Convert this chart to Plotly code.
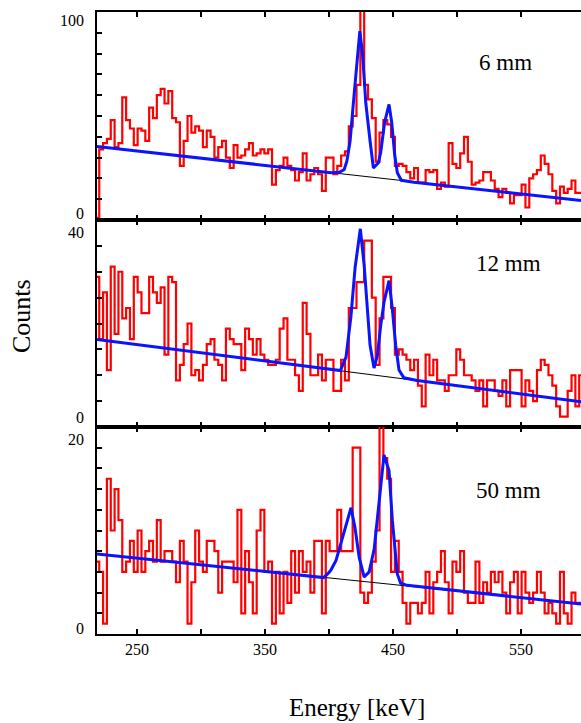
import plotly.graph_objects as go
import numpy as np

# ---------------- data ----------------
E_MIN, E_MAX = 218.75, 596.9          # energy axis range [keV]
BIN_START, BIN_WIDTH = 217.5, 3.0     # histogram binning [keV]

X_TICK_VALS = [250, 300, 350, 400, 450, 500, 550, 600]
X_TICK_TEXT = ["250", "", "350", "", "450", "", "550", ""]

panel_labels = ["6 mm", "12 mm", "50 mm"]
y_max = [100, 40, 20]
y_dtick = [10, 5, 2]

counts_6mm = [
    1, 34, 37, 39, 48, 35, 37, 59, 48, 44,
    36, 44, 43, 38, 54, 49, 60, 63, 56, 62,
    49, 47, 26, 38, 50, 42, 45, 43, 35, 43,
    40, 30, 35, 38, 30, 25, 36, 30, 31, 34,
    37, 31, 32, 34, 32, 34, 17, 24, 26, 30,
    26, 24, 19, 23, 32, 19, 22, 25, 22, 14,
    30, 30, 22, 26, 31, 33, 45, 50, 65, 103,
    65, 58, 49, 28, 42, 48, 46, 40, 26, 27,
    26, 23, 20, 25, 18, 18, 24, 23, 24, 15,
    18, 16, 37, 27, 25, 32, 40, 28, 17, 18,
    19, 23, 23, 19, 15, 11, 15, 13, 8, 12,
    12, 17, 6, 20, 22, 24, 31, 27, 22, 14,
    8, 16, 13, 15, 19, 13, 13,
]

counts_12mm = [
    29, 17, 26, 11, 31, 18, 30, 21, 23, 17,
    29, 26, 22, 22, 29, 26, 24, 27, 14, 29,
    28, 9, 12, 16, 20, 10, 11, 9, 12, 16,
    17, 13, 12, 9, 19, 17, 16, 16, 11, 19,
    17, 14, 17, 14, 13, 12, 12, 13, 19, 21,
    13, 13, 10, 7, 24, 18, 10, 10, 14, 9,
    13, 13, 7, 7, 13, 9, 23, 23, 28, 28,
    36, 36, 25, 12, 21, 29, 29, 23, 14, 15,
    14, 13, 11, 13, 8, 4, 14, 10, 13, 9,
    9, 7, 10, 10, 15, 13, 10, 10, 9, 7,
    9, 4, 9, 9, 7, 6, 9, 4, 11, 11,
    11, 4, 9, 7, 5, 11, 13, 12, 10, 8,
    4, 2, 2, 7, 10, 4, 10,
]

counts_50mm = [
    7, 6, 1, 15, 10, 14, 11, 6, 7, 9,
    6, 10, 6, 8, 9, 7, 11, 7, 8, 8,
    7, 5, 9, 7, 1, 5, 10, 7, 6, 9,
    9, 8, 4, 7, 7, 7, 5, 12, 2, 8,
    5, 2, 10, 12, 6, 7, 1, 6, 2, 6,
    3, 8, 4, 8, 6, 7, 4, 9, 9, 2,
    9, 8, 8, 12, 8, 8, 8, 18, 18, 4,
    3, 4, 7, 10, 21, 17, 15, 6, 9, 6,
    3, 1, 3, 3, 2, 3, 6, 2, 5, 6,
    8, 5, 2, 7, 6, 8, 4, 3, 3, 7,
    3, 5, 4, 6, 5, 6, 4, 2, 5, 6,
    2, 6, 4, 3, 4, 6, 4, 2, 3, 2,
    1, 6, 2, 1, 4, 3, 3,
]

# fitted curve (blue): vertices
fit_6mm_e = [218.75, 401.6, 408.1, 411.9, 414.0, 416.5, 419.7, 421.8, 424.1, 426.2,
             428.8, 432.1, 434.7, 438.6, 440.4, 443.5, 446.9, 449.0, 451.3, 453.4,
             456.5, 466.3, 596.9]
fit_6mm_c = [35.3, 22.7, 22.9, 24.3, 28.4, 38.0, 60.8, 77.0, 90.8, 80.0,
             56.0, 38.0, 25.0, 27.5, 32.4, 47.0, 55.6, 47.0, 31.6, 22.7,
             19.1, 18.2, 9.4]

fit_12mm_e = [218.75, 408.9, 413.3, 417.2, 420.4, 424.5, 427.5, 430.1, 432.1, 435.2,
              437.8, 440.4, 443.0, 446.9, 449.5, 452.1, 454.7, 458.5, 468.9, 596.9]
fit_12mm_c = [16.9, 10.9, 13.5, 21.5, 30.8, 38.3, 31.2, 21.5, 15.8, 11.4,
              13.8, 19.6, 24.1, 28.3, 22.8, 15.8, 11.0, 9.5, 9.0, 4.9]

fit_50mm_e = [218.75, 395.8, 399.7, 401.6, 405.5, 409.4, 413.3, 417.2, 420.3, 423.6,
              427.5, 431.4, 435.3, 437.8, 440.4, 443.0, 446.9, 449.5, 453.4, 456.0,
              461.0, 596.9]
fit_50mm_c = [7.74, 5.45, 5.9, 6.2, 7.1, 8.8, 10.6, 12.2, 10.3, 7.4,
              5.5, 6.0, 8.2, 11.0, 14.2, 17.3, 15.8, 11.0, 5.8, 4.9,
              4.7, 2.9]

# linear background (black)
bg_e = [218.75, 596.9]
bg_6mm = [35.3, 9.4]
bg_12mm = [16.9, 4.9]
bg_50mm = [7.74, 2.9]

# ---------------- figure ----------------
W, H = 581, 723
PLOT_TOP, PLOT_BOT = 12, 634
panel_px = [(12, 220), (220, 427), (427, 634)]
SERIF = "Liberation Serif"


def paper_y(py):
    return (PLOT_BOT - py) / (PLOT_BOT - PLOT_TOP)


def paper_x(px):
    return (px - 97) / (W - 97)


hist_sets = [counts_6mm, counts_12mm, counts_50mm]
fit_sets = [(fit_6mm_e, fit_6mm_c), (fit_12mm_e, fit_12mm_c), (fit_50mm_e, fit_50mm_c)]
bg_sets = [bg_6mm, bg_12mm, bg_50mm]

fig = go.Figure()

for i in range(3):
    n = i + 1
    xa, ya = f"x{n}", f"y{n}"
    counts = hist_sets[i]
    edges = BIN_START + BIN_WIDTH * np.arange(len(counts) + 1)
    fig.add_trace(go.Scatter(
        x=edges, y=list(counts) + [counts[-1]], mode="lines",
        line=dict(color="#ff0000", width=2.2, shape="hv"),
        xaxis=xa, yaxis=ya, showlegend=False, hoverinfo="skip"))
    fig.add_trace(go.Scatter(
        x=bg_e, y=bg_sets[i], mode="lines",
        line=dict(color="black", width=1),
        xaxis=xa, yaxis=ya, showlegend=False, hoverinfo="skip"))
    fe, fc = fit_sets[i]
    fig.add_trace(go.Scatter(
        x=fe, y=fc, mode="lines",
        line=dict(color="#0a14ff", width=3),
        xaxis=xa, yaxis=ya, showlegend=False, hoverinfo="skip"))

layout = dict(
    width=W, height=H,
    margin=dict(l=97, r=0, t=PLOT_TOP, b=H - PLOT_BOT, pad=0),
    paper_bgcolor="white", plot_bgcolor="white",
    showlegend=False,
)

for i in range(3):
    n = i + 1
    top, bot = panel_px[i]
    dom = [paper_y(bot), paper_y(top)]
    layout[f"xaxis{n}"] = dict(
        range=[E_MIN, E_MAX], anchor=f"y{n}", domain=[0, 1],
        showline=True, linecolor="black", linewidth=1.5, mirror="ticks",
        ticks="inside", ticklen=5, tickwidth=1.5, tickcolor="black",
        tickvals=X_TICK_VALS, ticktext=X_TICK_TEXT,
        showticklabels=(n == 3), showgrid=False, zeroline=False,
        tickfont=dict(family=SERIF, size=16, color="black"),
    )
    layout[f"yaxis{n}"] = dict(
        range=[0, y_max[i]], domain=dom, anchor=f"x{n}",
        showline=True, linecolor="black", linewidth=1.5, mirror=False,
        ticks="inside", ticklen=5, tickwidth=1.5, tickcolor="black",
        tick0=0, dtick=y_dtick[i], showticklabels=False,
        showgrid=False, zeroline=False,
    )
    layout[f"yaxis{n + 3}"] = dict(
        range=[0, y_max[i]], overlaying=f"y{n}", side="right", anchor=f"x{n}",
        showline=False, ticks="inside", ticklen=5, tickwidth=1.5, tickcolor="black",
        tick0=0, dtick=y_dtick[i], showticklabels=False,
        showgrid=False, zeroline=False,
    )

fig.update_layout(**layout)

# y tick labels (only the end values, as in the reference)
ylab_pos = [(20.5, 214), (232, 417), (439.5, 628)]
anns = []
for i in range(3):
    ptop, pbot = ylab_pos[i]
    for txt, py in ((str(y_max[i]), ptop), ("0", pbot)):
        anns.append(dict(text=txt, xref="paper", yref="paper",
                         x=paper_x(86), y=paper_y(py), xanchor="right", yanchor="middle",
                         showarrow=False, font=dict(family=SERIF, size=16, color="black")))

# panel labels
lab_pos = [(505, 63), (508, 263), (508, 490)]
for i in range(3):
    px, py = lab_pos[i]
    anns.append(dict(text=panel_labels[i], xref="paper", yref="paper",
                     x=paper_x(px), y=paper_y(py), xanchor="center", yanchor="middle",
                     showarrow=False, font=dict(family=SERIF, size=23, color="black")))

# axis titles
anns.append(dict(text="Counts", xref="paper", yref="paper",
                 x=paper_x(21), y=paper_y(316), xanchor="center", yanchor="middle",
                 textangle=-90, showarrow=False,
                 font=dict(family=SERIF, size=26, color="black")))
anns.append(dict(text="Energy [keV]", xref="paper", yref="paper",
                 x=paper_x(357), y=paper_y(707), xanchor="center", yanchor="middle",
                 showarrow=False, font=dict(family=SERIF, size=25, color="black")))

fig.update_layout(annotations=anns)

fig.write_html("out.html", config={"displayModeBar": False})
